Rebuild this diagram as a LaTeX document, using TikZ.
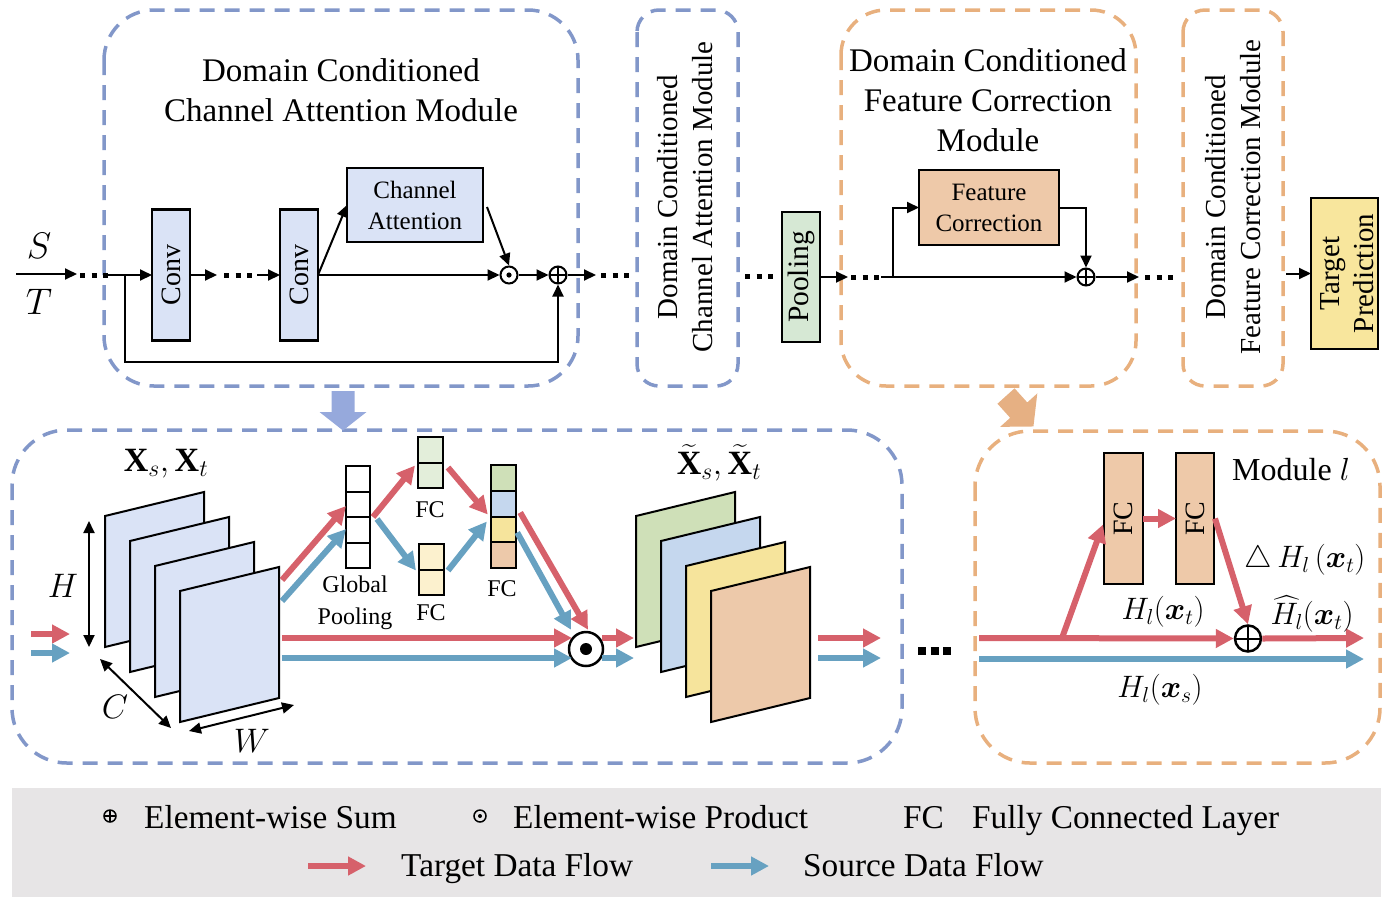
\documentclass[tikz,border=0pt]{standalone}
\usepackage{fix-cm}
\usepackage{amsmath}
\usepackage{fontspec}
\setmainfont{Liberation Serif}
\usetikzlibrary{arrows.meta,calc}
\definecolor{dblue}{HTML}{8297C9}
\definecolor{dorange}{HTML}{E8B07E}
\definecolor{cblue}{HTML}{DAE3F6}
\definecolor{cgreen}{HTML}{D6E8D4}
\definecolor{corange}{HTML}{EEC9A9}
\definecolor{cyellow}{HTML}{F8E69D}
\definecolor{fred}{HTML}{D6616B}
\definecolor{fblue}{HTML}{67A1C1}
\definecolor{ablue}{HTML}{96A9DC}
\definecolor{aorange}{HTML}{E6B083}
\definecolor{vgreen}{HTML}{E3EEDA}
\definecolor{vyellow}{HTML}{FCF1CE}
\definecolor{mgreen}{HTML}{CFE0B8}
\definecolor{mblue}{HTML}{C5D7EE}
\definecolor{myellow}{HTML}{F6E49C}
\definecolor{morange}{HTML}{EDC9AA}
\definecolor{lgray}{HTML}{E7E5E6}
\tikzset{
  ln/.style={line width=2, draw=black},
  arr/.style={ln, -{Triangle[length=12,width=11]}},
  dblarr/.style={ln, {Triangle[length=12,width=11]}-{Triangle[length=12,width=11]}},
  dashbox/.style={line width=3.5, dash pattern=on 15 off 10},
  bx/.style={draw=black, line width=2.2, inner sep=0, outer sep=0},
  rflow/.style={draw=fred, line width=6, -{Triangle[length=18,width=18]}},
  bflow/.style={draw=fblue, line width=6, -{Triangle[length=18,width=18]}},
  dotsA/.style={line width=5, dash pattern=on 5 off 6.5},
  dotsB/.style={line width=8, dash pattern=on 8 off 4.5},
  ttl/.style={font=\fontsize{33}{40}\selectfont, align=center, inner sep=0},
  vtxt/.style={font=\fontsize{29}{35}\selectfont, align=center, rotate=90, inner sep=0},
  lbl/.style={font=\fontsize{25}{31}\selectfont, align=center, inner sep=0},
  rlbl/.style={font=\fontsize{28}{34}\selectfont, align=center, rotate=90, inner sep=0},
  mth/.style={font=\fontsize{34}{40}\selectfont, inner sep=0},
  mths/.style={font=\fontsize{31}{37}\selectfont, inner sep=0},
  leg/.style={font=\fontsize{33.3}{40}\selectfont, inner sep=0, anchor=base west},
  pcirc/.style={circle, draw=black, line width=2, inner sep=0, minimum size=17},
  oplus/.style={pcirc, path picture={\draw[line width=1.6] (path picture bounding box.north) -- (path picture bounding box.south) (path picture bounding box.west) -- (path picture bounding box.east);}},
  odot/.style={pcirc, path picture={\fill (path picture bounding box.center) circle (2.6);}},
}
\begin{document}
\begin{tikzpicture}[x=1pt,y=-1pt]
\useasboundingbox (0,0) rectangle (1394,914);

% ---------------- dashed frames ----------------
\draw[dashbox, draw=dblue, rounded corners=50] (104,10) rectangle (578,386);
\draw[dashbox, draw=dblue, rounded corners=22] (637,10) rectangle (738,386);
\draw[dashbox, draw=dorange, rounded corners=45] (841,10) rectangle (1136,386);
\draw[dashbox, draw=dorange, rounded corners=22] (1183,10) rectangle (1283,386);
\draw[dashbox, draw=dblue, rounded corners=55] (12,430) rectangle (902,763);
\draw[dashbox, draw=dorange, rounded corners=55] (975,431) rectangle (1380,763);

% ---------------- titles ----------------
\node[ttl] (t1) at (341,90) {Domain Conditioned\\Channel Attention Module};
\node[ttl] (t2) at (988,100) {Domain Conditioned\\Feature Correction\\Module};
\node[vtxt] (t3) at (685,197) {Domain Conditioned\\Channel Attention Module};
\node[vtxt] (t4) at (1233,197) {Domain Conditioned\\Feature Correction Module};

% ---------------- top row ----------------
\node[mth, font=\fontsize{37}{44}\selectfont] (S) at (39,246) {$S$};
\node[mth, font=\fontsize{37}{44}\selectfont] (T) at (39,302) {$T$};
\coordinate (in0) at (16,274);
\coordinate (in1) at (77,274);
\draw[arr] (in0) -- (in1);
\coordinate (da0) at (80,275);
\coordinate (da1) at (108,275);
\draw[dotsA] (da0) -- (da1);

\node[bx, fill=cblue, minimum width=38, minimum height=131] (conv1) at (171,275) {};
\node[rlbl] (conv1t) at (conv1) {Conv};
\node[bx, fill=cblue, minimum width=38, minimum height=131] (conv2) at (299,275) {};
\node[rlbl] (conv2t) at (conv2) {Conv};
\node[bx, fill=cblue, minimum width=136, minimum height=74, lbl] (ca) at (415,205) {Channel\\Attention};
\node[odot] (od1) at (509,275) {};
\node[oplus] (op1) at (558,275) {};

\coordinate (j1) at (107,275);
\draw[arr] (j1) -- (conv1.west);
\coordinate (fb0) at (125,275);
\coordinate (fb1) at (125,362);
\draw[arr] (fb0) -- (fb1) -| (op1.south);
\coordinate (c1o) at (217,275);
\draw[arr] (conv1.east) -- (c1o);
\coordinate (db0) at (224,275);
\coordinate (db1) at (256,275);
\draw[dotsA] (db0) -- (db1);
\coordinate (c2i) at (257,275);
\draw[arr] (c2i) -- (conv2.west);
\draw[arr] (conv2.east) -- (od1.west);
\draw[arr] (conv2.east) -- (ca.west);
\coordinate (cao) at (487,207);
\draw[arr] (cao) -- (od1.north);
\draw[arr] (od1.east) -- (op1.west);
\coordinate (o1) at (596,275);
\draw[arr] (op1.east) -- (o1);
\coordinate (dc0) at (601,275);
\coordinate (dc1) at (633,275);
\draw[dotsA] (dc0) -- (dc1);

\coordinate (dd0) at (745,276);
\coordinate (dd1) at (777,276);
\draw[dotsA] (dd0) -- (dd1);
\node[bx, fill=cgreen, minimum width=38, minimum height=130] (pool) at (801,277) {};
\node[rlbl, font=\fontsize{29.5}{35}\selectfont] (poolt) at (pool) {Pooling};
\coordinate (po) at (848,277);
\draw[arr] (pool.east) -- (po);
\coordinate (de0) at (851,277);
\coordinate (de1) at (883,277);
\draw[dotsA] (de0) -- (de1);
\node[bx, fill=corange, minimum width=140, minimum height=75, lbl] (fcb) at (989,207.5) {Feature\\Correction};
\node[oplus] (op2) at (1086,277) {};
\coordinate (j2) at (881,277);
\draw[arr] (j2) -- (op2.west);
\coordinate (br2) at (893,277);
\draw[arr] (br2) |- (fcb.west);
\draw[arr] (fcb.east) -| (op2.north);
\coordinate (o2) at (1139,277);
\draw[arr] (op2.east) -- (o2);
\coordinate (df0) at (1145,277);
\coordinate (df1) at (1177,277);
\draw[dotsA] (df0) -- (df1);
\node[bx, fill=cyellow, minimum width=67, minimum height=151] (tp) at (1344.5,273.5) {};
\node[rlbl, font=\fontsize{29}{34}\selectfont] (tpt) at (1347,273.5) {Target\\Prediction};
\coordinate (tpi) at (1286,273.5);
\draw[arr] (tpi) -- (tp.west);

% ---------------- fat arrows ----------------
\begin{scope}[shift={(343,391)}]
\fill[ablue] (-11.5,0) -- (11.5,0) -- (11.5,21) -- (23.5,21) -- (0,39.5) -- (-23.5,21) -- (-11.5,21) -- cycle;
\end{scope}
\begin{scope}[shift={(1006,396)}, rotate=-48]
\fill[aorange] (0,-11.5) -- (19,-11.5) -- (19,-25) -- (41,0) -- (19,25) -- (19,11.5) -- (0,11.5) -- cycle;
\end{scope}

% ---------------- bottom left ----------------
\coordinate (ir0) at (31,634);
\coordinate (ir1) at (70,634);
\coordinate (ib0) at (31,653);
\coordinate (ib1) at (70,653);
\draw[rflow] (ir0) -- (ir1);
\draw[bflow] (ib0) -- (ib1);

\foreach \k in {0,1,2,3} {
  \filldraw[fill=cblue, line width=2] ({105+25*\k},{516+25*\k}) -- ++(99,-24) -- ++(0,131) -- ++(-99,24) -- cycle;
}
\foreach \k/\c in {0/mgreen,1/mblue,2/myellow,3/morange} {
  \filldraw[fill=\c, line width=2] ({636+25*\k},{516+25*\k}) -- ++(99,-24) -- ++(0,131) -- ++(-99,24) -- cycle;
}

\coordinate (h0) at (89,521);
\coordinate (h1) at (89,647);
\draw[dblarr] (h0) -- (h1);
\node[mth] (Hlab) at (63,586) {$H$};
\coordinate (cc0) at (100,659);
\coordinate (cc1) at (171,728);
\draw[dblarr] (cc0) -- (cc1);
\node[mth] (Clab) at (115,707) {$C$};
\coordinate (w0) at (189,731);
\coordinate (w1) at (294,705);
\draw[dblarr] (w0) -- (w1);
\node[mth] (Wlab) at (252,741) {$W$};
\node[mth] (Xlab) at (166,464) {$\mathbf{X}_s, \mathbf{X}_t$};
\node[mth] (Xtlab) at (719,463) {$\widetilde{\mathbf{X}}_s, \widetilde{\mathbf{X}}_t$};

% global pooling vector
\node[bx, fill=white, minimum width=24, minimum height=102] (gp) at (358,517) {};
\foreach \i in {1,2,3} \draw[line width=2] ($(gp.north west)!\i/4!(gp.south west)$) -- ($(gp.north east)!\i/4!(gp.south east)$);
\node[bx, fill=vgreen, minimum width=25, minimum height=51] (fc1) at (430.5,462.5) {};
\draw[line width=2] (fc1.west) -- (fc1.east);
\node[bx, fill=vyellow, minimum width=25, minimum height=51] (fc2) at (431.5,569.5) {};
\draw[line width=2] (fc2.west) -- (fc2.east);
\foreach \i/\c in {0/mgreen,1/mblue,2/myellow,3/morange}
  \filldraw[fill=\c, line width=2] (491,{465+25.75*\i}) rectangle (516,{465+25.75*(\i+1)});
\node[minimum width=25, minimum height=103, inner sep=0] (fc3) at (503.5,516.5) {};

\node[lbl, font=\fontsize{24}{32}\selectfont] (gpl) at (355,603) {Global\\Pooling};
\node[lbl, font=\fontsize{24}{30}\selectfont] (fc1l) at (430,510) {FC};
\node[lbl, font=\fontsize{24}{30}\selectfont] (fc2l) at (431,613) {FC};
\node[lbl, font=\fontsize{24}{30}\selectfont] (fc3l) at (502,589) {FC};

\coordinate (fmr) at (282,580);
\coordinate (fmb) at (282,601);
\draw[rflow] (fmr) -- ($(gp.west)+(0,-11)$);
\draw[bflow] (fmb) -- ($(gp.west)+(0,12)$);
\draw[rflow] ($(gp.east)+(3,0)$) -- ($(fc1.west)+(-3,3)$);
\draw[bflow] ($(gp.east)+(7,2)$) -- ($(fc2.west)+(-3,1)$);
\draw[rflow] ($(fc1.east)+(5,5)$) -- ($(fc3.west)+(-3,-2)$);
\draw[bflow] ($(fc2.east)+(4,1)$) -- ($(fc3.west)+(-4,5)$);

\node[pcirc, line width=2.5, minimum size=34, path picture={\fill (path picture bounding box.center) circle (6);}] (od2) at (586,649) {};
\draw[rflow] ($(fc3.east)+(4,-4)$) -- ($(od2.north)+(2,-1)$);
\draw[bflow] ($(fc3.east)+(1,16)$) -- ($(od2.north)+(-15,-1)$);
\coordinate (mr0) at (282,638);
\coordinate (mb0) at (282,658);
\draw[rflow] (mr0) -- ($(od2.center)+(-14,-11)$);
\draw[bflow] (mb0) -- ($(od2.center)+(-14,9)$);
\coordinate (ar1) at (634,638);
\coordinate (ab1) at (634,658);
\draw[rflow] ($(od2.center)+(16,-11)$) -- (ar1);
\draw[bflow] ($(od2.center)+(16,9)$) -- (ab1);
\coordinate (xr0) at (818,638);
\coordinate (xr1) at (881,638);
\coordinate (xb0) at (818,658);
\coordinate (xb1) at (881,658);
\draw[rflow] (xr0) -- (xr1);
\draw[bflow] (xb0) -- (xb1);
\coordinate (dg0) at (918,651);
\coordinate (dg1) at (952,651);
\draw[dotsB] (dg0) -- (dg1);

% ---------------- bottom right ----------------
\node[bx, fill=corange, minimum width=39, minimum height=131] (f1) at (1123.5,518.5) {};
\node[rlbl] (f1t) at (f1) {FC};
\node[bx, fill=corange, minimum width=38, minimum height=131] (f2) at (1195,518.5) {};
\node[rlbl] (f2t) at (f2) {FC};
\node[pcirc, line width=2.5, minimum size=26, path picture={\draw[line width=2] (path picture bounding box.north) -- (path picture bounding box.south) (path picture bounding box.west) -- (path picture bounding box.east);}] (op3) at (1248,638.5) {};
\coordinate (rin) at (979,638);
\coordinate (bin) at (979,659);
\coordinate (rout) at (1364,638);
\coordinate (bout) at (1364,659);
\coordinate (brr) at (1062,638);
\draw[rflow] (rin) -- (op3.west);
\draw[rflow] (brr) -- ($(f1.west)+(-1,6)$);
\draw[rflow] (f1.east) -- (f2.west);
\draw[rflow] ($(f2.east)+(1,0)$) -- (op3.north);
\draw[rflow] (op3.east) -- (rout);
\draw[bflow] (bin) -- (bout);

\node[mth, font=\fontsize{32}{38}\selectfont] (modl) at (1291,470) {Module $l$};
\node[mths] (dH) at (1305,560) {$\triangle\, H_l\,(\boldsymbol{x}_t)$};
\node[mths] (Ht) at (1163,612) {$H_l(\boldsymbol{x}_t)$};
\node[mths] (Hh) at (1312,614) {$\widehat{H_l}(\boldsymbol{x}_t)$};
\node[mths] (Hs) at (1160,690) {$H_l(\boldsymbol{x}_s)$};

% ---------------- legend ----------------
\fill[lgray] (12,788) rectangle (1381,897);
\node[pcirc, line width=1.5, minimum size=12, path picture={\draw[line width=1.2] (path picture bounding box.north) -- (path picture bounding box.south) (path picture bounding box.west) -- (path picture bounding box.east);}] (lop) at (110,816) {};
\node[leg] (l1) at (144,828) {Element-wise Sum};
\node[pcirc, line width=1.5, minimum size=12, path picture={\fill (path picture bounding box.center) circle (2);}] (lod) at (480,816) {};
\node[leg] (l2) at (513,828) {Element-wise Product};
\node[leg] (l3) at (903,828) {FC};
\node[leg] (l4) at (972,828) {Fully Connected Layer};
\coordinate (lr0) at (308,866);
\coordinate (lr1) at (366,866);
\draw[rflow] (lr0) -- (lr1);
\node[leg] (l5) at (401,876) {Target Data Flow};
\coordinate (lb0) at (711,866);
\coordinate (lb1) at (769,866);
\draw[bflow] (lb0) -- (lb1);
\node[leg] (l6) at (803,876) {Source Data Flow};
\end{tikzpicture}
\end{document}
